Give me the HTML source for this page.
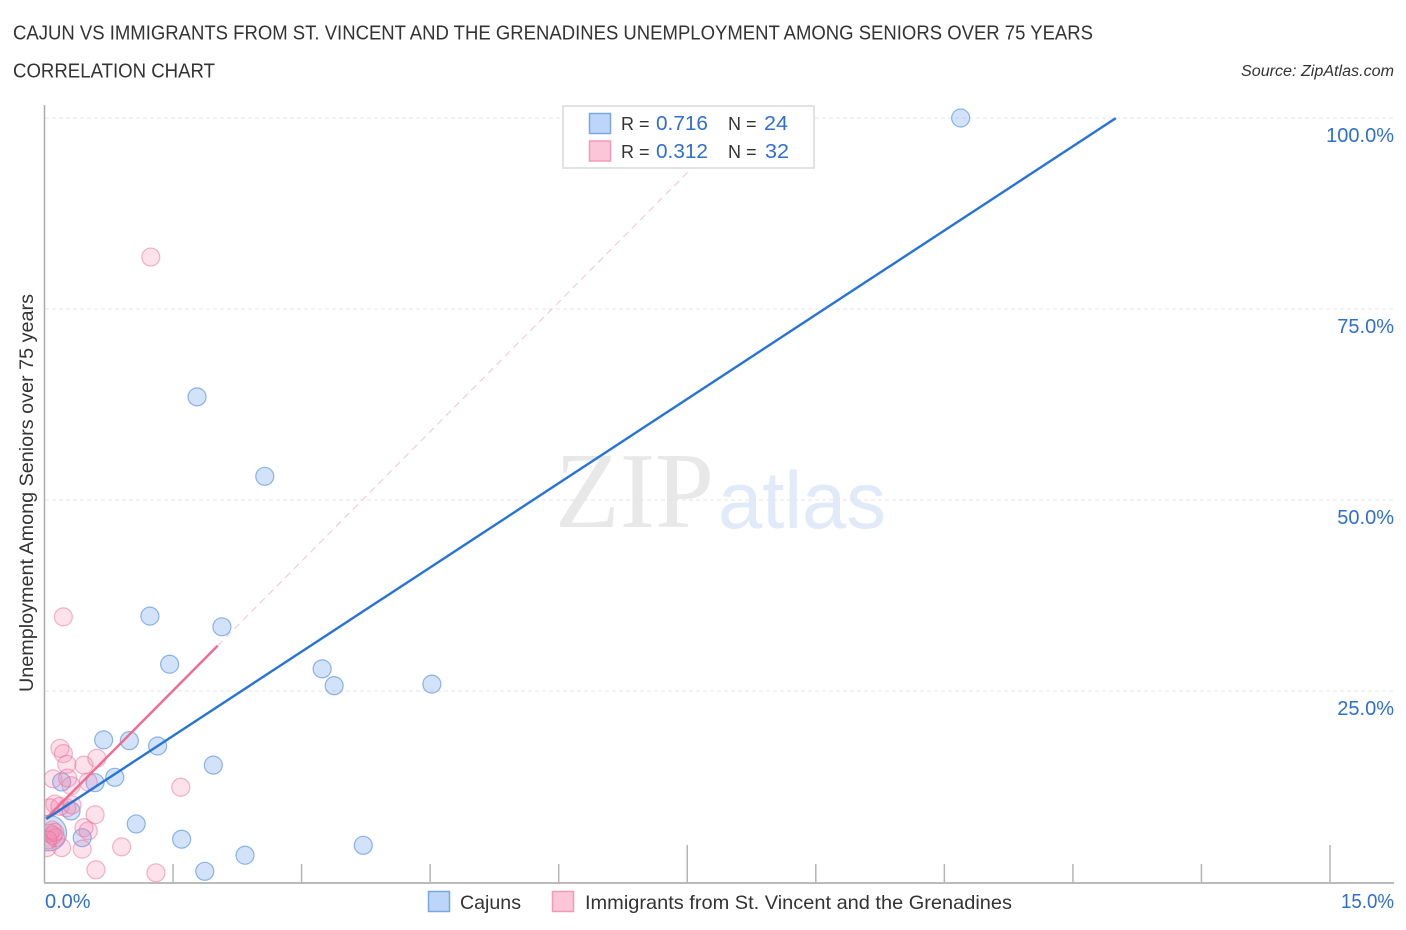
<!DOCTYPE html>
<html lang="en">
<head>
<meta charset="utf-8">
<title>Cajun vs Immigrants correlation chart</title>
<style>
html,body{margin:0;padding:0;background:#fff;}
svg{display:block;font-family:"Liberation Sans",sans-serif;}
</style>
</head>
<body>
<svg id="chart" width="1406" height="930" viewBox="0 0 1406 930" xmlns="http://www.w3.org/2000/svg">
  <defs>
    <clipPath id="plot-clip"><rect x="45" y="100" width="1350" height="782"/></clipPath>
  </defs>
  <text x="13" y="39.5" font-size="20" fill="#333" textLength="1080" lengthAdjust="spacingAndGlyphs">CAJUN VS IMMIGRANTS FROM ST. VINCENT AND THE GRENADINES UNEMPLOYMENT AMONG SENIORS OVER 75 YEARS</text>
  <text x="13" y="77.5" font-size="20" fill="#333" textLength="202" lengthAdjust="spacingAndGlyphs">CORRELATION CHART</text>
  <text x="1241" y="76" font-size="15.5" font-style="italic" fill="#333" textLength="153" lengthAdjust="spacingAndGlyphs">Source: ZipAtlas.com</text>

  <g>
    <text x="555" y="527" font-family="'Liberation Serif',serif" font-size="108" fill="#e8e8e8" textLength="159" lengthAdjust="spacingAndGlyphs">ZIP</text>
    <text x="718" y="528" font-size="81" fill="#e1eaf8" textLength="168" lengthAdjust="spacingAndGlyphs">atlas</text>
  </g>

  <g id="grid"></g>
  <g id="axes"></g>
  <g id="points" clip-path="url(#plot-clip)"></g>
  <g id="fits"></g>

  <text transform="translate(33,493) rotate(-90)" text-anchor="middle" font-size="19" fill="#333" textLength="398" lengthAdjust="spacingAndGlyphs">Unemployment Among Seniors over 75 years</text>

  <g>
    <rect x="563" y="106" width="251" height="62" fill="#fff" stroke="#e2e2e2" stroke-width="2"/>
    <rect x="589.5" y="113.5" width="21" height="20" fill="#bcd5f8" stroke="#7aa7e2" stroke-width="1.5"/>
    <rect x="589.5" y="141" width="21" height="20" fill="#fcc6d8" stroke="#f09ab8" stroke-width="1.5"/>
    <g font-size="20.5">
      <text x="621" y="130" fill="#333" font-size="18">R =</text>
      <text x="656" y="130" fill="#2f6fd0" textLength="52" lengthAdjust="spacingAndGlyphs">0.716</text>
      <text x="728" y="130" fill="#333" font-size="18">N =</text>
      <text x="764" y="130" fill="#2f6fd0" textLength="24" lengthAdjust="spacingAndGlyphs">24</text>
      <text x="621" y="158" fill="#333" font-size="18">R =</text>
      <text x="656" y="158" fill="#2f6fd0" textLength="52" lengthAdjust="spacingAndGlyphs">0.312</text>
      <text x="728" y="158" fill="#333" font-size="18">N =</text>
      <text x="765" y="158" fill="#2f6fd0" textLength="24" lengthAdjust="spacingAndGlyphs">32</text>
    </g>
  </g>

  <g>
    <rect x="428.5" y="891.5" width="21" height="20" fill="#bcd5f8" stroke="#7aa7e2" stroke-width="1.5"/>
    <text x="460" y="909" font-size="19.5" fill="#333" textLength="61" lengthAdjust="spacingAndGlyphs">Cajuns</text>
    <rect x="552.5" y="891.5" width="21" height="20" fill="#fcc6d8" stroke="#f09ab8" stroke-width="1.5"/>
    <text x="585" y="909" font-size="19.5" fill="#333" textLength="427" lengthAdjust="spacingAndGlyphs">Immigrants from St. Vincent and the Grenadines</text>
  </g>
</svg>

<script>
const xTickValues = [0, 1.5, 3, 4.5, 6, 7.5, 9, 10.5, 12, 13.5, 15];
const xMajorTicks = [7.5, 15];
const xEdgeLabels = ['0.0%', '15.0%'];
const yTickValues = [25, 50, 75, 100];
const yTickLabels = ['25.0%', '50.0%', '75.0%', '100.0%'];

const cajunX = [10.69, 1.78, 2.57, 1.23, 2.07, 1.46, 3.24, 3.38, 4.52, 0.69, 0.99, 1.32, 1.97, 0.82, 0.59, 0.20, 1.07, 0.31, 0.44, 1.60, 1.87, 2.34, 3.72, 0.05];
const cajunY = [100, 63.5, 53.1, 34.8, 33.4, 28.5, 27.9, 25.7, 25.9, 18.6, 18.5, 17.8, 15.3, 13.7, 13.0, 13.1, 7.6, 9.3, 5.8, 5.6, 1.4, 3.5, 4.8, 6.4];
const cajunWeight = [1, 1, 1, 1, 1, 1, 1, 1, 1, 1, 1, 1, 1, 1, 1, 1, 1, 1, 1, 1, 1, 1, 1, 3.9];

const immigrantX = [1.24, 0.22, 0.18, 0.22, 0.26, 0.46, 0.61, 0.10, 0.27, 0.31, 0.51, 1.59, 0.59, 0.90, 0.60, 1.30, 0.44, 0.46, 0.51, 0.20, 0.12, 0.06, 0.18, 0.26, 0.32, 0.03, 0.06, 0.10, 0.13, 0.09, 0.12, 0.04];
const immigrantY = [81.8, 34.7, 17.5, 16.8, 15.4, 15.3, 16.2, 13.5, 13.6, 12.6, 13.1, 12.4, 8.8, 4.6, 1.6, 1.2, 4.3, 7.1, 6.7, 4.5, 10.2, 9.7, 9.9, 9.7, 10.1, 4.5, 6.4, 6.1, 5.8, 6.8, 6.5, 5.5];

const cajunFitIntercept = 8.1;
const cajunFitSlope = 7.35;
const cajunFitEndX = 12.5;
const immigrantFitIntercept = 8.1;
const immigrantFitSlope = 11.3;
const immigrantFitSolidEndX = 2.02;
const immigrantFitDashEndX = 8.14;

const NS = 'http://www.w3.org/2000/svg';
const xScale = v => 44.5 + v * 85.7;
const yScale = v => 882 - v * 7.64;
const POINT_RADIUS = 9;

function make(tag, attrs, parent) {
  const el = document.createElementNS(NS, tag);
  for (const k in attrs) el.setAttribute(k, attrs[k]);
  parent.appendChild(el);
  return el;
}

const grid = document.getElementById('grid');
const axes = document.getElementById('axes');
const points = document.getElementById('points');
const fits = document.getElementById('fits');

yTickValues.forEach((v, i) => {
  const line = make('line', {x1: 45, x2: 1394, y1: yScale(v), y2: yScale(v), stroke: '#e6e6e6', 'stroke-width': 1, 'stroke-dasharray': '4 3'}, grid);
  
  
  const label = make('text', {x: 1394, y: yScale(v) + 24, 'text-anchor': 'end', 'font-size': 20, fill: '#2f6fd0'}, axes);
  
  
  label.textContent = yTickLabels[i];
});

const yAxis = make('line', {x1: 44.5, x2: 44.5, y1: 105, y2: 883, stroke: '#aaa', 'stroke-width': 1.5}, axes);


const xAxis = make('line', {x1: 44, x2: 1394, y1: 883, y2: 883, stroke: '#bbb', 'stroke-width': 2}, axes);



xTickValues.slice(1).forEach(v => {
  const top = xMajorTicks.includes(v) ? 845 : 864;
  const tick = make('line', {x1: xScale(v), x2: xScale(v), y1: top, y2: 883, stroke: '#b5b5b5', 'stroke-width': 1.5}, axes);
  
  
});

const xLeft = make('text', {x: 45, y: 908, 'font-size': 20, fill: '#2f6fd0'}, axes);


xLeft.textContent = xEdgeLabels[0];
const xRight = make('text', {x: 1341, y: 908, 'font-size': 20, fill: '#2f6fd0', textLength: 53, lengthAdjust: 'spacingAndGlyphs'}, axes);


xRight.textContent = xEdgeLabels[1];

cajunX.forEach((x, i) => {
  const c = make('circle', {cx: xScale(x), cy: yScale(cajunY[i]), r: POINT_RADIUS * Math.sqrt(cajunWeight[i]), fill: 'rgba(80,145,230,0.26)', stroke: 'rgba(60,125,215,0.55)', 'stroke-width': 1.2}, points);
  
  
});
immigrantX.forEach((x, i) => {
  const c = make('circle', {cx: xScale(x), cy: yScale(immigrantY[i]), r: POINT_RADIUS, fill: 'rgba(245,130,170,0.24)', stroke: 'rgba(235,110,150,0.5)', 'stroke-width': 1.2}, points);
  
  
});

const startX = 0.02;
const pinkDash = make('line', {x1: xScale(immigrantFitSolidEndX), y1: yScale(immigrantFitIntercept + immigrantFitSlope * immigrantFitSolidEndX), x2: xScale(immigrantFitDashEndX), y2: yScale(immigrantFitIntercept + immigrantFitSlope * immigrantFitDashEndX), stroke: '#f2c4d3', 'stroke-width': 1, 'stroke-dasharray': '7 5'}, fits);


const pinkFit = make('line', {x1: xScale(startX), y1: yScale(immigrantFitIntercept + immigrantFitSlope * startX), x2: xScale(immigrantFitSolidEndX), y2: yScale(immigrantFitIntercept + immigrantFitSlope * immigrantFitSolidEndX), stroke: '#ee6b92', 'stroke-width': 2.4}, fits);


const blueFit = make('line', {x1: xScale(startX), y1: yScale(cajunFitIntercept + cajunFitSlope * startX), x2: xScale(cajunFitEndX), y2: yScale(cajunFitIntercept + cajunFitSlope * cajunFitEndX), stroke: '#2774d8', 'stroke-width': 2.4}, fits);


</script>
</body>
</html>
